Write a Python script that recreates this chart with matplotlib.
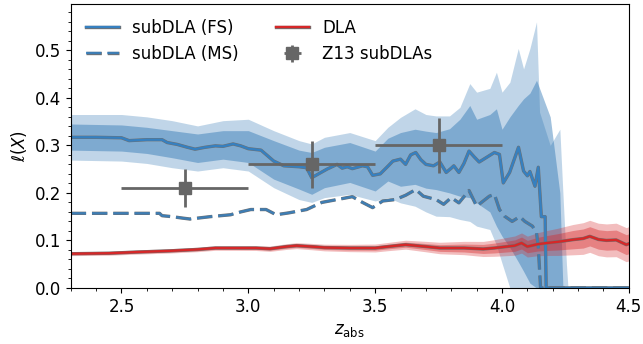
import numpy as np
import matplotlib
matplotlib.use("Agg")
import matplotlib.pyplot as plt
import matplotlib.patheffects as pe
from matplotlib.ticker import MultipleLocator

# subDLA (FS) line of sight incidence
fs_z = [2.30, 2.40, 2.50, 2.53, 2.60, 2.66, 2.68, 2.72, 2.76, 2.79, 2.83, 2.87, 2.90, 2.94,
        2.97, 3.00, 3.05, 3.10, 3.14, 3.20, 3.23, 3.25, 3.28, 3.31, 3.35, 3.37, 3.39, 3.41,
        3.45, 3.47, 3.49, 3.52, 3.55, 3.57, 3.60, 3.62, 3.64, 3.66, 3.68, 3.70, 3.73, 3.755,
        3.78, 3.80, 3.81, 3.83, 3.85, 3.87, 3.89, 3.91, 3.94, 3.97, 3.99, 4.005, 4.03, 4.065,
        4.085, 4.10, 4.11, 4.13, 4.143, 4.155, 4.170, 4.174, 4.50]
fs_val = [0.317, 0.317, 0.316, 0.310, 0.312, 0.312, 0.306, 0.302, 0.296, 0.292, 0.296, 0.299,
          0.298, 0.303, 0.299, 0.293, 0.290, 0.267, 0.257, 0.255, 0.253, 0.232, 0.241, 0.250,
          0.260, 0.252, 0.255, 0.251, 0.257, 0.255, 0.237, 0.240, 0.256, 0.267, 0.271, 0.260,
          0.280, 0.285, 0.270, 0.260, 0.257, 0.265, 0.243, 0.252, 0.257, 0.243, 0.262, 0.288,
          0.276, 0.265, 0.275, 0.285, 0.281, 0.221, 0.243, 0.296, 0.246, 0.236, 0.245, 0.214,
          0.254, 0.150, 0.150, 0.0, 0.0]

# FS confidence bands
band_z = [2.30, 2.50, 2.60, 2.70, 2.80, 2.90, 3.00, 3.10, 3.20, 3.25, 3.30, 3.40, 3.50,
          3.55, 3.60, 3.657, 3.70, 3.74, 3.793, 3.834, 3.873, 3.90, 3.952, 3.978, 4.00,
          4.031, 4.064, 4.085, 4.11, 4.136, 4.148, 4.19, 4.228, 4.24, 4.254, 4.26]
out_lo = [0.269, 0.267, 0.262, 0.253, 0.246, 0.253, 0.246, 0.211, 0.186, 0.180, 0.190, 0.197,
          0.183, 0.190, 0.179, 0.172, 0.160, 0.151, 0.150, 0.144, 0.140, 0.130, 0.123, 0.090,
          0.052, 0.0, 0.0, 0.0, 0.0, 0.0, 0.0, 0.0, 0.0, 0.0, 0.0, 0.0]
in_lo = [0.290, 0.288, 0.283, 0.274, 0.264, 0.271, 0.264, 0.229, 0.208, 0.197, 0.211, 0.222,
         0.204, 0.225, 0.214, 0.218, 0.210, 0.207, 0.200, 0.193, 0.190, 0.179, 0.160, 0.130,
         0.109, 0.085, 0.055, 0.035, 0.010, 0.0, 0.0, 0.0, 0.0, 0.0, 0.0, 0.0]
in_hi = [0.345, 0.343, 0.338, 0.331, 0.324, 0.331, 0.331, 0.310, 0.290, 0.285, 0.296, 0.306,
         0.288, 0.315, 0.327, 0.334, 0.330, 0.327, 0.335, 0.355, 0.384, 0.355, 0.365, 0.377,
         0.334, 0.360, 0.384, 0.398, 0.410, 0.437, 0.420, 0.360, 0.200, 0.0, 0.0, 0.0]
out_hi = [0.365, 0.365, 0.360, 0.352, 0.341, 0.352, 0.355, 0.331, 0.310, 0.303, 0.317, 0.327,
          0.310, 0.338, 0.359, 0.377, 0.365, 0.362, 0.362, 0.380, 0.430, 0.412, 0.420, 0.454,
          0.412, 0.433, 0.504, 0.461, 0.504, 0.560, 0.370, 0.300, 0.334, 0.200, 0.050, 0.0]

# subDLA (MS)
ms_z = [2.30, 2.55, 2.65, 2.66, 2.70, 2.74, 2.77, 2.85, 2.93, 2.97, 3.01, 3.07, 3.11, 3.16,
        3.23, 3.29, 3.35, 3.41, 3.45, 3.49, 3.53, 3.58, 3.62, 3.66, 3.69, 3.74, 3.77, 3.80,
        3.83, 3.87, 3.90, 3.95, 3.97, 3.99, 4.01, 4.04, 4.07, 4.09, 4.12, 4.136, 4.143,
        4.152, 4.50]
ms_val = [0.157, 0.157, 0.157, 0.152, 0.150, 0.147, 0.145, 0.150, 0.154, 0.160, 0.165, 0.165,
          0.154, 0.158, 0.165, 0.180, 0.186, 0.192, 0.180, 0.169, 0.183, 0.186, 0.195, 0.207,
          0.193, 0.186, 0.176, 0.190, 0.179, 0.205, 0.172, 0.193, 0.197, 0.165, 0.151, 0.140,
          0.150, 0.140, 0.130, 0.116, 0.087, 0.0, 0.0]

# DLA
dla_z = [2.30, 2.45, 2.56, 2.69, 2.80, 2.87, 2.95, 3.03, 3.085, 3.15, 3.19, 3.25, 3.30, 3.40,
         3.50, 3.55, 3.62, 3.70, 3.755, 3.85, 3.926, 3.97, 4.018, 4.05, 4.077, 4.10, 4.14,
         4.176, 4.22, 4.28, 4.32, 4.346, 4.38, 4.412, 4.45, 4.49, 4.50]
dla_val = [0.072, 0.073, 0.0755, 0.078, 0.081, 0.084, 0.084, 0.084, 0.0825, 0.087, 0.089,
           0.087, 0.085, 0.084, 0.084, 0.087, 0.091, 0.087, 0.084, 0.084, 0.082, 0.084, 0.087,
           0.089, 0.0945, 0.087, 0.092, 0.0945, 0.097, 0.1016, 0.104, 0.1086, 0.102, 0.100,
           0.101, 0.091, 0.093]
dla_err_z = [2.30, 3.00, 3.30, 3.60, 3.90, 4.10, 4.30, 4.50]
dla_err_out = [0.004, 0.005, 0.007, 0.009, 0.015, 0.022, 0.033, 0.036]
dla_err_in = [0.002, 0.003, 0.004, 0.005, 0.009, 0.013, 0.020, 0.021]

# Z13 subDLAs
z13_z = [2.75, 3.25, 3.75]
z13_val = [0.21, 0.26, 0.30]
z13_zerr = [0.25, 0.25, 0.25]
z13_verr = [0.04, 0.05, 0.058]

blue = '#2f77b4'
line_blue = '#3680c0'
red = '#d62728'
outline = [pe.Stroke(linewidth=2.4, foreground='#707070'), pe.Normal()]

fig = plt.figure(figsize=(6.43, 3.44), dpi=100)
ax = fig.add_axes([0.110, 0.163, 0.868, 0.826])

ax.fill_between(band_z, out_lo, out_hi, color=blue, alpha=0.3, lw=0)
ax.fill_between(band_z, in_lo, in_hi, color=blue, alpha=0.45, lw=0)
ax.plot(fs_z, fs_val, color=line_blue, lw=1.7, path_effects=outline, label='subDLA (FS)')
ax.plot(ms_z, ms_val, color=line_blue, lw=1.7, ls='--', dashes=(6.5, 2.5), alpha=0.85,
        path_effects=outline, label='subDLA (MS)')

dla_z_arr = np.array(dla_z)
dla_arr = np.array(dla_val)
e_out = np.interp(dla_z_arr, dla_err_z, dla_err_out)
e_in = np.interp(dla_z_arr, dla_err_z, dla_err_in)
ax.fill_between(dla_z_arr, dla_arr - e_out, dla_arr + e_out, color=red, alpha=0.3, lw=0)
ax.fill_between(dla_z_arr, dla_arr - e_in, dla_arr + e_in, color=red, alpha=0.4, lw=0)
ax.plot(dla_z, dla_val, color=red, lw=1.7, path_effects=outline, label='DLA')

ax.errorbar(z13_z, z13_val, xerr=z13_zerr, yerr=z13_verr, fmt='s', color='#666666',
            ms=8, elinewidth=2, capsize=0, label='Z13 subDLAs', zorder=5)

ax.set_xlim(2.3, 4.5)
ax.set_ylim(0, 0.598)
ax.xaxis.set_major_locator(MultipleLocator(0.5))
ax.xaxis.set_minor_locator(MultipleLocator(0.1))
ax.yaxis.set_major_locator(MultipleLocator(0.1))
ax.yaxis.set_minor_locator(MultipleLocator(0.02))
ax.tick_params(labelsize=12)
ax.set_xlabel(r'$z_{\rm abs}$', fontsize=12)
ax.set_ylabel(r'$\ell(X)$', fontsize=12)

ax.legend(loc='upper left', ncol=2, frameon=False, fontsize=12, columnspacing=2.2)

fig.savefig('out.png', dpi=100)
